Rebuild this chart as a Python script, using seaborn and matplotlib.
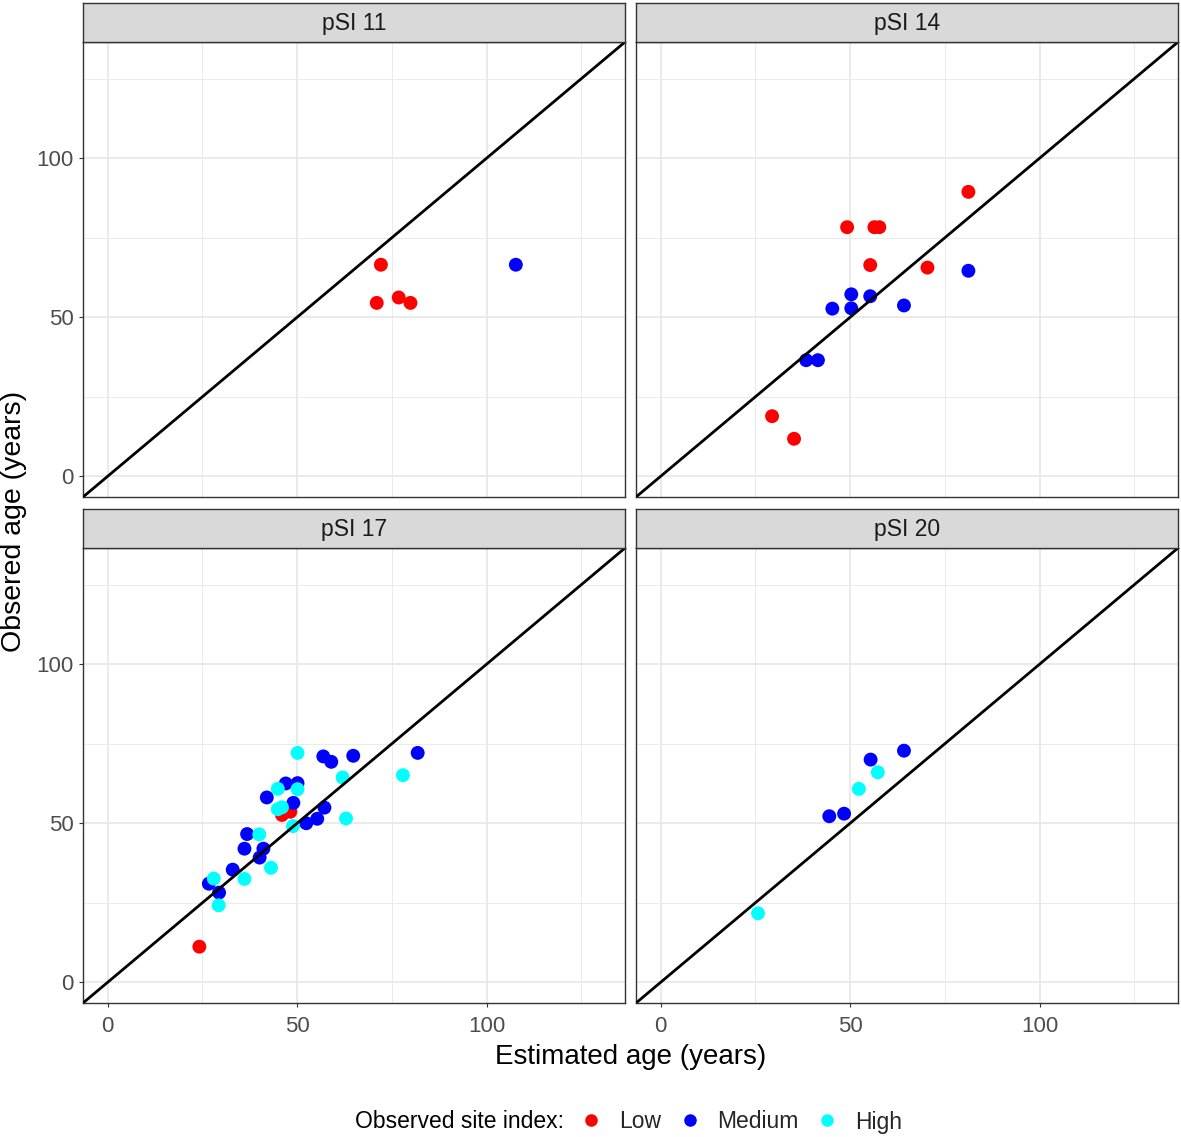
import matplotlib
matplotlib.use("Agg")
import matplotlib.pyplot as plt
from matplotlib.lines import Line2D
import pandas as pd
import seaborn as sns

# -----------------------------
# Data
# -----------------------------
panels = ["pSI 11", "pSI 14", "pSI 17", "pSI 20"]
levels = ["Low", "Medium", "High"]
colors = ["#FF0000", "#0000FF", "#00FFFF"]

psi11_est = [72.1, 71.0, 76.8, 79.9, 107.7]
psi11_obs = [66.5, 54.5, 56.2, 54.5, 66.5]
psi11_si = ["Low", "Low", "Low", "Low", "Medium"]

psi14_est = [81.2, 49.2, 56.4, 57.7, 55.3, 70.4, 29.4, 35.2,
             81.2, 50.3, 55.3, 45.3, 50.3, 64.2, 38.4, 41.5]
psi14_obs = [89.4, 78.3, 78.3, 78.3, 66.4, 65.6, 18.9, 11.8,
             64.6, 57.2, 56.6, 52.7, 52.8, 53.7, 36.5, 36.5]
psi14_si = ["Low"] * 8 + ["Medium"] * 8

psi17_est = [46.0, 48.2, 24.2,
             56.9, 59.0, 64.8, 81.8, 47.0, 50.1, 42.0, 49.0, 57.2, 52.4,
             55.3, 36.8, 36.1, 41.1, 40.1, 33.0, 26.7, 29.4,
             50.1, 77.9, 62.0, 44.9, 50.1, 44.9, 46.0, 48.9, 62.9, 40.0,
             43.1, 36.1, 28.0, 29.3]
psi17_obs = [52.6, 53.6, 11.2,
             71.0, 69.3, 71.2, 72.1, 62.5, 62.6, 58.1, 56.4, 54.9, 50.0,
             51.4, 46.6, 42.0, 42.0, 39.2, 35.4, 31.0, 28.2,
             72.1, 65.1, 64.4, 60.8, 60.7, 54.4, 55.0, 49.1, 51.5, 46.5,
             36.0, 32.5, 32.6, 24.2]
psi17_si = ["Low"] * 3 + ["Medium"] * 18 + ["High"] * 14

psi20_est = [64.2, 55.4, 44.5, 48.4, 57.3, 52.3, 25.7]
psi20_obs = [72.8, 70.0, 52.2, 53.0, 66.0, 60.8, 21.7]
psi20_si = ["Medium"] * 4 + ["High"] * 3

frames = []
for name, est, obs, si in zip(
    panels,
    [psi11_est, psi14_est, psi17_est, psi20_est],
    [psi11_obs, psi14_obs, psi17_obs, psi20_obs],
    [psi11_si, psi14_si, psi17_si, psi20_si],
):
    frames.append(pd.DataFrame({"panel": name, "est": est, "obs": obs, "si": si}))
df = pd.concat(frames, ignore_index=True)

# -----------------------------
# Style
# -----------------------------
sns.set_theme(style="white")
plt.rcParams["font.family"] = ["Liberation Sans", "DejaVu Sans"]

W, H = 1181, 1137
fig = plt.figure(figsize=(W / 100, H / 100), dpi=100)
fig.patch.set_facecolor("white")

# panel boxes in pixels: left / top of plotting area
lefts = [83, 636]
tops = [42, 548]
pw, ph, sh = 542, 455, 39

lim = (-6.5, 136.5)

for i, name in enumerate(panels):
    row, col = divmod(i, 2)
    l = lefts[col]
    t = tops[row]
    ax = fig.add_axes([l / W, 1 - (t + ph) / H, pw / W, ph / H])
    sub = df[df["panel"] == name]
    ax.set_xticks([25, 75, 125], minor=True)
    ax.set_yticks([25, 75, 125], minor=True)
    ax.set_xticks([0, 50, 100])
    ax.set_yticks([0, 50, 100])
    ax.grid(True, which="major", color="#E8E8E8", lw=1.3, zorder=0)
    ax.grid(True, which="minor", color="#EBEBEB", lw=0.7, zorder=0)
    ax.set_axisbelow(True)
    sns.scatterplot(
        data=sub, x="est", y="obs", hue="si", hue_order=levels,
        palette=colors, s=100, linewidth=0, alpha=1, legend=False, ax=ax,
        zorder=2,
    )
    ax.axline((0, 0), slope=1, color="black", lw=2.0, zorder=3)
    ax.set_xlim(lim)
    ax.set_ylim(lim)
    ax.set_xlabel("")
    ax.set_ylabel("")
    for sp in ax.spines.values():
        sp.set_color("#333333")
        sp.set_linewidth(1.0)
    ax.tick_params(which="major", length=3, width=0.8, color="#333333",
                   labelcolor="#4D4D4D", labelsize=16, pad=3.5,
                   bottom=True, left=True)
    ax.tick_params(axis="x", pad=6.5)
    ax.tick_params(which="minor", length=0)
    if row == 0:
        ax.tick_params(axis="x", labelbottom=False, bottom=False)
    if col == 1:
        ax.tick_params(axis="y", labelleft=False, left=False)

    # facet strip
    sax = fig.add_axes([l / W, 1 - t / H, pw / W, sh / H])
    sax.set_facecolor("#D9D9D9")
    sax.set_xticks([])
    sax.set_yticks([])
    for sp in sax.spines.values():
        sp.set_color("#333333")
        sp.set_linewidth(1.0)
    sax.text(0.5, 0.48, name, ha="center", va="center", fontsize=16.5,
             color="#1A1A1A", transform=sax.transAxes)

# -----------------------------
# Axis titles
# -----------------------------
fig.text(14 / W, 1 - 521 / H, "Obsered age (years)", rotation=90,
         ha="center", va="center", fontsize=20.5, color="black")
fig.text(631 / W, 1 - 1057 / H, "Estimated age (years)",
         ha="center", va="center", fontsize=20, color="black")

# -----------------------------
# Legend
# -----------------------------
fig.text(355 / W, 1 - 1122 / H, "Observed site index:", ha="left",
         va="center", fontsize=16.5, color="black")
handles = [Line2D([], [], marker="o", ls="", color=c, markersize=8)
           for c in colors]
fig.legend(handles, levels, ncol=3, loc="center left",
           bbox_to_anchor=(580 / W, 1 - 1122 / H), frameon=False,
           fontsize=16.5, handlelength=1.0, handletextpad=0.7,
           columnspacing=0.75, borderaxespad=0, borderpad=0)

fig.savefig("out.png", dpi=100)
plt.close(fig)
